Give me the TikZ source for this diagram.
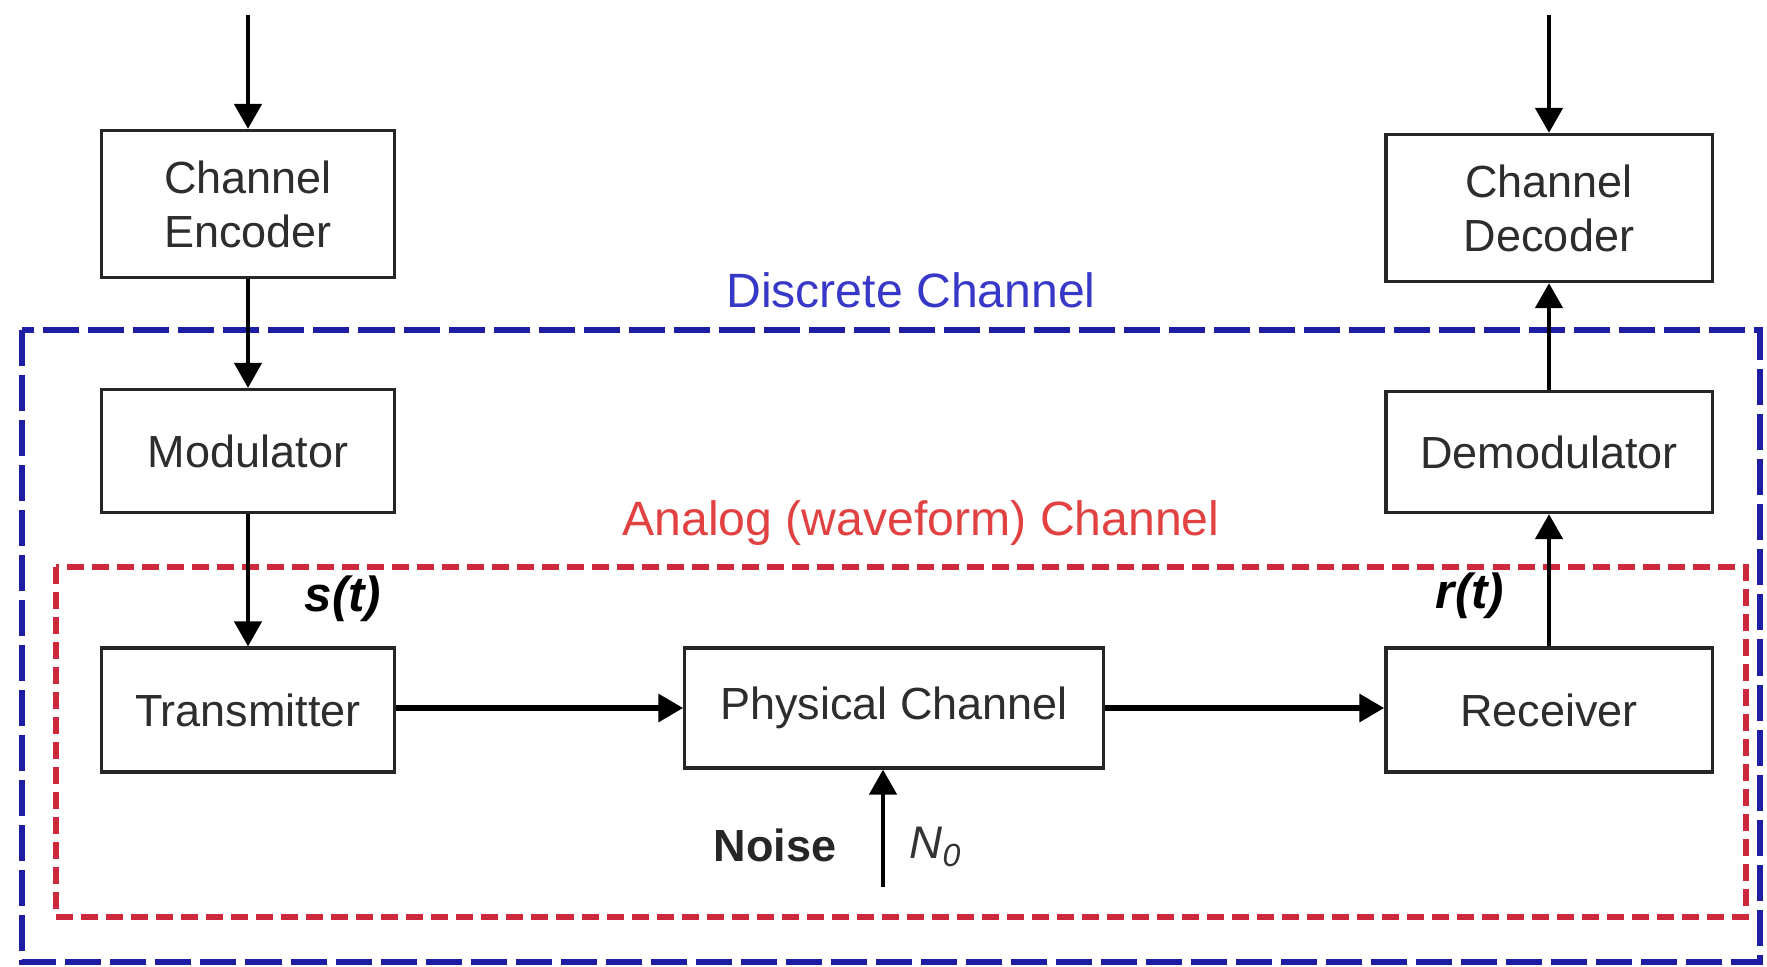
\documentclass[tikz,border=0pt]{standalone}
\usepackage{fontspec}
\setmainfont{Liberation Sans}
\usetikzlibrary{arrows.meta}

\definecolor{boxtext}{RGB}{45,45,45}
\definecolor{discblue}{RGB}{30,30,165}
\definecolor{disctext}{RGB}{55,55,200}
\definecolor{analogred}{RGB}{205,40,60}
\definecolor{analogtext}{RGB}{225,65,65}

\begin{document}
\begin{tikzpicture}[x=0.01cm, y=-0.01cm,
  block/.style={draw=black!85, line width=0.9pt, fill=white, align=center,
    font=\fontsize{12.8}{15.4}\selectfont, text=boxtext, inner sep=0pt},
  flow/.style={line width=1.3pt, -{Triangle[length=0.25cm, width=0.27cm]}},
  bigflow/.style={line width=1.9pt, -{Triangle[length=0.25cm, width=0.27cm]}},
  discframe/.style={draw=discblue, line width=1.5pt, dash pattern=on 0.36cm off 0.09cm},
  analogframe/.style={draw=analogred, line width=1.5pt, dash pattern=on 0.17cm off 0.08cm},
  sig/.style={font=\fontsize{14}{16}\selectfont\bfseries\itshape},
]
\useasboundingbox (0,0) rectangle (1767,966);

% channel frames
\draw[discframe] (22,330) rectangle (1760,962);
\draw[analogframe] (56,567) rectangle (1746,917);

\node[text=disctext, font=\fontsize{13.7}{16}\selectfont] (disclabel) at (911,290) {Discrete Channel};
\node[text=analogtext, font=\fontsize{13.7}{16}\selectfont] (analoglabel) at (921,523) {Analog (waveform) Channel};

% blocks
\node[block, minimum width=2.93cm, minimum height=1.47cm] (enc) at (248,204) {Channel\\Encoder};
\node[block, minimum width=2.93cm, minimum height=1.23cm] (mod) at (248,451) {Modulator};
\node[block, minimum width=2.93cm, minimum height=1.24cm] (tx) at (248,710) {Transmitter};
\node[block, minimum width=4.18cm, minimum height=1.20cm] (phy) at (894,708) {Physical Channel};
\node[block, minimum width=3.26cm, minimum height=1.24cm] (rx) at (1549,710) {Receiver};
\node[block, minimum width=3.26cm, minimum height=1.21cm] (demod) at (1549,452) {Demodulator};
\node[block, minimum width=3.26cm, minimum height=1.47cm] (dec) at (1549,208) {Channel\\Decoder};

% free ends
\coordinate (inL) at (248,15);
\coordinate (inR) at (1549,15);
\coordinate (noise) at (883,887);

% connectors
\draw[flow] (inL) -- (enc.north);
\draw[flow] (enc.south) -- (mod.north);
\draw[flow] (mod.south) -- (tx.north);
\draw[bigflow] (phy.west -| tx.east) -- (phy.west);
\draw[bigflow] (phy.east) -- (phy.east -| rx.west);
\draw[flow] (rx.north) -- (demod.south);
\draw[flow] (demod.north) -- (dec.south);
\draw[flow] (inR) -- (dec.north);
\draw[flow] (noise) -- (phy.south -| noise);

% signal labels
\node[sig] (st) at (343,599) {s(t)};
\node[sig] (rt) at (1470,596) {r(t)};
\node[font=\fontsize{12.8}{15}\selectfont\bfseries, text=black!85] (noiselabel) at (775,845) {Noise};
\node[font=\fontsize{13}{15}\selectfont\itshape, text=black!80] (n0) at (936,847) {N\textsubscript{0}};
\end{tikzpicture}
\end{document}
